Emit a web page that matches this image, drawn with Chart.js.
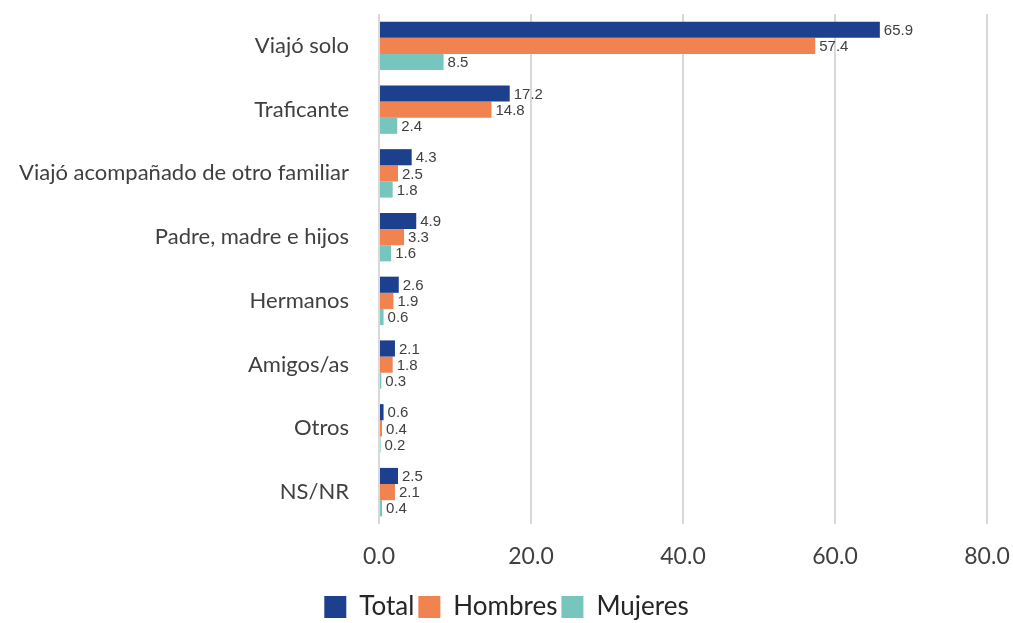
<!DOCTYPE html>
<html>
<head>
<meta charset="utf-8">
<script src="https://cdn.jsdelivr.net/npm/chart.js@4/dist/chart.umd.min.js"></script>
<style>
  html, body { margin: 0; padding: 0; background: #fff; }
  #chart { display: block; }
</style>
</head>
<body>
<canvas id="chart" width="1013" height="623"></canvas>
<script>
const CATEGORIES = ['Viajó solo', 'Traficante', 'Viajó acompañado de otro familiar', 'Padre, madre e hijos', 'Hermanos', 'Amigos/as', 'Otros', 'NS/NR'];
const TOTAL = [65.9, 17.2, 4.3, 4.9, 2.6, 2.1, 0.6, 2.5];
const HOMBRES = [57.4, 14.8, 2.5, 3.3, 1.9, 1.8, 0.4, 2.1];
const MUJERES = [8.5, 2.4, 1.8, 1.6, 0.6, 0.3, 0.2, 0.4];
const X_TICKS = [0, 20, 40, 60, 80];

const FONT = 'Lato, "Open Sans", sans-serif';

// draws the value just after the end of each bar
const valueLabels = {
  id: 'valueLabels',
  afterDatasetsDraw(chart) {
    const ctx = chart.ctx;
    ctx.save();
    ctx.font = '15px "Liberation Sans Narrow", "Liberation Sans", sans-serif';
    ctx.fillStyle = '#404040';
    ctx.textBaseline = 'middle';
    ctx.textAlign = 'left';
    chart.data.datasets.forEach((ds, i) => {
      chart.getDatasetMeta(i).data.forEach((bar, j) => {
        ctx.fillText(ds.data[j].toFixed(1), bar.x + 4, bar.y + 1);
      });
    });
    ctx.restore();
  }
};

new Chart(document.getElementById('chart'), {
  type: 'bar',
  data: {
    labels: CATEGORIES,
    datasets: [
      { label: 'Total', data: TOTAL, backgroundColor: '#1c3f8e' },
      { label: 'Hombres', data: HOMBRES, backgroundColor: '#f0834f' },
      { label: 'Mujeres', data: MUJERES, backgroundColor: '#76c6be' },
    ]
  },
  options: {
    indexAxis: 'y',
    responsive: false,
    animation: false,
    categoryPercentage: 0.76,
    barPercentage: 1,
    layout: { padding: { top: 14, right: 0, left: 0, bottom: -7 } },
    plugins: {
      tooltip: { enabled: false },
      legend: {
        position: 'bottom',
        labels: {
          font: { family: FONT, size: 26 },
          color: '#262626',
          boxWidth: 22,
          boxHeight: 22,
          padding: 4,
        }
      }
    },
    scales: {
      x: {
        min: 0,
        max: 80,
        afterBuildTicks(scale) { scale.ticks = X_TICKS.map(v => ({ value: v })); },
        grid: { color: '#d9d9d9', lineWidth: 2, drawTicks: false },
        border: { display: false },
        ticks: {
          font: { family: FONT, size: 23 },
          color: '#404040',
          padding: 19,
          callback: v => v.toFixed(1),
        },
        afterFit(scale) {
          scale.height = 66;
          scale.paddingLeft = 0;
          scale.paddingRight = 26;
        }
      },
      y: {
        grid: { display: false },
        border: { display: false },
        ticks: {
          font: { family: FONT, size: 22 },
          color: '#404040',
          padding: 22,
        },
        afterFit(scale) {
          scale.width = 379;
          scale.paddingTop = 0;
          scale.paddingBottom = 0;
        }
      }
    }
  },
  plugins: [valueLabels]
});
</script>
</body>
</html>
